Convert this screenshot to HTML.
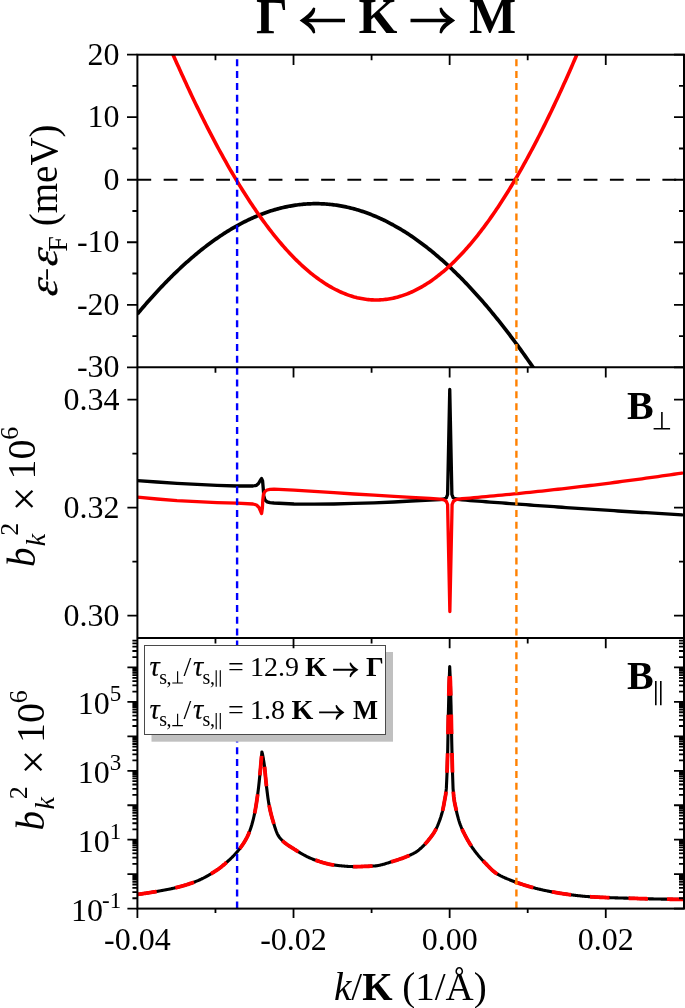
<!DOCTYPE html>
<html><head><meta charset="utf-8"><style>html,body{margin:0;padding:0;background:#fff;width:685px;height:1008px;overflow:hidden;position:relative}text{font-family:"Liberation Serif",serif}</style></head><body>
<svg width="685" height="1008" viewBox="0 0 685 1008" style="position:absolute;left:0;top:0;will-change:transform">
<rect width="685" height="1008" fill="#fff"/>
<defs>
<clipPath id="c1"><rect x="137.4" y="54.7" width="546.6" height="312.6"/></clipPath>
<clipPath id="c2"><rect x="137.4" y="367.3" width="546.6" height="270.7"/></clipPath>
<clipPath id="c3"><rect x="137.4" y="638.0" width="546.6" height="270.6"/></clipPath>
</defs>
<line x1="137.4" y1="179.74" x2="684.0" y2="179.74" stroke="#000" stroke-width="2.2" stroke-dasharray="13.8 12.45" stroke-dashoffset="0"/>
<g clip-path="url(#c1)" fill="none" stroke-linejoin="round">
<path d="M137.4,313.99 L138.76,312.36 L140.13,310.74 L141.49,309.13 L142.85,307.53 L144.22,305.95 L145.58,304.37 L146.94,302.81 L148.31,301.26 L149.67,299.72 L151.03,298.19 L152.4,296.67 L153.76,295.16 L155.12,293.66 L156.48,292.18 L157.85,290.71 L159.21,289.25 L160.57,287.8 L161.94,286.36 L163.3,284.93 L164.66,283.52 L166.03,282.11 L167.39,280.72 L168.75,279.34 L170.12,277.97 L171.48,276.62 L172.84,275.27 L174.21,273.94 L175.57,272.62 L176.93,271.31 L178.3,270.01 L179.66,268.73 L181.02,267.45 L182.39,266.19 L183.75,264.94 L185.11,263.71 L186.48,262.48 L187.84,261.27 L189.2,260.07 L190.57,258.88 L191.93,257.7 L193.29,256.54 L194.65,255.38 L196.02,254.24 L197.38,253.11 L198.74,252 L200.11,250.89 L201.47,249.8 L202.83,248.72 L204.2,247.66 L205.56,246.6 L206.92,245.56 L208.29,244.53 L209.65,243.51 L211.01,242.51 L212.38,241.52 L213.74,240.54 L215.1,239.57 L216.47,238.61 L217.83,237.67 L219.19,236.74 L220.56,235.82 L221.92,234.92 L223.28,234.03 L224.65,233.15 L226.01,232.28 L227.37,231.43 L228.74,230.58 L230.1,229.76 L231.46,228.94 L232.82,228.14 L234.19,227.35 L235.55,226.57 L236.91,225.8 L238.28,225.05 L239.64,224.31 L241,223.58 L242.37,222.87 L243.73,222.17 L245.09,221.48 L246.46,220.8 L247.82,220.14 L249.18,219.49 L250.55,218.86 L251.91,218.23 L253.27,217.62 L254.64,217.02 L256,216.44 L257.36,215.87 L258.73,215.31 L260.09,214.76 L261.45,214.23 L262.82,213.71 L264.18,213.2 L265.54,212.71 L266.91,212.23 L268.27,211.76 L269.63,211.3 L270.99,210.86 L272.36,210.43 L273.72,210.02 L275.08,209.62 L276.45,209.23 L277.81,208.85 L279.17,208.49 L280.54,208.14 L281.9,207.8 L283.26,207.48 L284.63,207.17 L285.99,206.87 L287.35,206.59 L288.72,206.31 L290.08,206.06 L291.44,205.81 L292.81,205.58 L294.17,205.36 L295.53,205.16 L296.9,204.97 L298.26,204.79 L299.62,204.62 L300.99,204.47 L302.35,204.33 L303.71,204.21 L305.07,204.1 L306.44,204 L307.8,203.91 L309.16,203.84 L310.53,203.78 L311.89,203.73 L313.25,203.7 L314.62,203.68 L315.98,203.68 L317.34,203.68 L318.71,203.7 L320.07,203.74 L321.43,203.79 L322.8,203.85 L324.16,203.92 L325.52,204.01 L326.89,204.11 L328.25,204.22 L329.61,204.35 L330.98,204.49 L332.34,204.64 L333.7,204.81 L335.07,204.99 L336.43,205.18 L337.79,205.39 L339.16,205.61 L340.52,205.84 L341.88,206.09 L343.24,206.35 L344.61,206.62 L345.97,206.91 L347.33,207.21 L348.7,207.52 L350.06,207.84 L351.42,208.18 L352.79,208.54 L354.15,208.9 L355.51,209.28 L356.88,209.67 L358.24,210.08 L359.6,210.5 L360.97,210.93 L362.33,211.38 L363.69,211.83 L365.06,212.31 L366.42,212.79 L367.78,213.29 L369.15,213.8 L370.51,214.32 L371.87,214.86 L373.24,215.41 L374.6,215.98 L375.96,216.55 L377.33,217.14 L378.69,217.75 L380.05,218.36 L381.41,218.99 L382.78,219.64 L384.14,220.29 L385.5,220.96 L386.87,221.64 L388.23,222.34 L389.59,223.05 L390.96,223.77 L392.32,224.5 L393.68,225.25 L395.05,226.01 L396.41,226.78 L397.77,227.57 L399.14,228.37 L400.5,229.18 L401.86,230 L403.23,230.84 L404.59,231.69 L405.95,232.56 L407.32,233.43 L408.68,234.32 L410.04,235.23 L411.41,236.14 L412.77,237.07 L414.13,238.01 L415.49,238.97 L416.86,239.93 L418.22,240.91 L419.58,241.91 L420.95,242.91 L422.31,243.93 L423.67,244.96 L425.04,246 L426.4,247.06 L427.76,248.13 L429.13,249.21 L430.49,250.3 L431.85,251.41 L433.22,252.53 L434.58,253.66 L435.94,254.81 L437.31,255.96 L438.67,257.13 L440.03,258.32 L441.4,259.51 L442.76,260.72 L444.12,261.94 L445.49,263.17 L446.85,264.41 L448.21,265.67 L449.58,266.94 L450.94,268.22 L452.3,269.52 L453.66,270.82 L455.03,272.14 L456.39,273.47 L457.75,274.82 L459.12,276.17 L460.48,277.54 L461.84,278.92 L463.21,280.31 L464.57,281.71 L465.93,283.13 L467.3,284.56 L468.66,286 L470.02,287.45 L471.39,288.92 L472.75,290.39 L474.11,291.88 L475.48,293.38 L476.84,294.9 L478.2,296.42 L479.57,297.96 L480.93,299.51 L482.29,301.07 L483.66,302.64 L485.02,304.22 L486.38,305.82 L487.75,307.42 L489.11,309.04 L490.47,310.67 L491.83,312.32 L493.2,313.97 L494.56,315.64 L495.92,317.31 L497.29,319 L498.65,320.7 L500.01,322.41 L501.38,324.14 L502.74,325.87 L504.1,327.62 L505.47,329.37 L506.83,331.14 L508.19,332.92 L509.56,334.71 L510.92,336.52 L512.28,338.33 L513.65,340.15 L515.01,341.99 L516.37,343.84 L517.74,345.7 L519.1,347.57 L520.46,349.45 L521.83,351.34 L523.19,353.24 L524.55,355.15 L525.92,357.08 L527.28,359.01 L528.64,360.96 L530,362.91 L531.37,364.88 L532.73,366.86 L534.09,368.85 L535.46,370.85 L536.82,372.86 L538.18,374.88 L539.55,376.91 L540.91,378.95 L542.27,381 L543.64,383.07 L545,385.14" stroke="#000" stroke-width="3.7"/>
<path d="M160,24.32 L161.44,27.73 L162.88,31.12 L164.31,34.5 L165.75,37.87 L167.19,41.21 L168.63,44.54 L170.07,47.85 L171.51,51.15 L172.94,54.42 L174.38,57.68 L175.82,60.93 L177.26,64.15 L178.7,67.36 L180.13,70.55 L181.57,73.72 L183.01,76.87 L184.45,80 L185.89,83.12 L187.32,86.22 L188.76,89.3 L190.2,92.36 L191.64,95.4 L193.08,98.42 L194.52,101.42 L195.95,104.41 L197.39,107.37 L198.83,110.32 L200.27,113.25 L201.71,116.15 L203.14,119.04 L204.58,121.91 L206.02,124.76 L207.46,127.58 L208.9,130.39 L210.33,133.18 L211.77,135.95 L213.21,138.69 L214.65,141.42 L216.09,144.13 L217.53,146.81 L218.96,149.48 L220.4,152.12 L221.84,154.74 L223.28,157.35 L224.72,159.93 L226.15,162.49 L227.59,165.03 L229.03,167.54 L230.47,170.04 L231.91,172.51 L233.34,174.97 L234.78,177.4 L236.22,179.81 L237.66,182.19 L239.1,184.56 L240.54,186.9 L241.97,189.23 L243.41,191.52 L244.85,193.8 L246.29,196.06 L247.73,198.29 L249.16,200.5 L250.6,202.69 L252.04,204.85 L253.48,206.99 L254.92,209.11 L256.35,211.21 L257.79,213.28 L259.23,215.33 L260.67,217.36 L262.11,219.36 L263.55,221.34 L264.98,223.3 L266.42,225.24 L267.86,227.15 L269.3,229.04 L270.74,230.9 L272.17,232.74 L273.61,234.56 L275.05,236.35 L276.49,238.12 L277.93,239.86 L279.36,241.58 L280.8,243.28 L282.24,244.95 L283.68,246.6 L285.12,248.23 L286.56,249.83 L287.99,251.41 L289.43,252.96 L290.87,254.49 L292.31,255.99 L293.75,257.47 L295.18,258.92 L296.62,260.35 L298.06,261.76 L299.5,263.14 L300.94,264.49 L302.37,265.83 L303.81,267.13 L305.25,268.41 L306.69,269.67 L308.13,270.9 L309.57,272.11 L311,273.29 L312.44,274.44 L313.88,275.58 L315.32,276.68 L316.76,277.76 L318.19,278.82 L319.63,279.85 L321.07,280.85 L322.51,281.83 L323.95,282.79 L325.38,283.71 L326.82,284.62 L328.26,285.5 L329.7,286.35 L331.14,287.17 L332.58,287.98 L334.01,288.75 L335.45,289.5 L336.89,290.22 L338.33,290.92 L339.77,291.59 L341.2,292.24 L342.64,292.86 L344.08,293.46 L345.52,294.03 L346.96,294.57 L348.39,295.09 L349.83,295.58 L351.27,296.04 L352.71,296.48 L354.15,296.9 L355.59,297.28 L357.02,297.65 L358.46,297.98 L359.9,298.29 L361.34,298.57 L362.78,298.83 L364.21,299.06 L365.65,299.27 L367.09,299.45 L368.53,299.6 L369.97,299.73 L371.4,299.83 L372.84,299.9 L374.28,299.95 L375.72,299.97 L377.16,299.97 L378.6,299.94 L380.03,299.88 L381.47,299.8 L382.91,299.69 L384.35,299.55 L385.79,299.39 L387.22,299.2 L388.66,298.99 L390.1,298.75 L391.54,298.48 L392.98,298.19 L394.41,297.87 L395.85,297.53 L397.29,297.16 L398.73,296.76 L400.17,296.34 L401.61,295.89 L403.04,295.41 L404.48,294.91 L405.92,294.38 L407.36,293.83 L408.8,293.25 L410.23,292.64 L411.67,292.01 L413.11,291.35 L414.55,290.66 L415.99,289.95 L417.42,289.21 L418.86,288.45 L420.3,287.66 L421.74,286.85 L423.18,286.01 L424.62,285.14 L426.05,284.25 L427.49,283.33 L428.93,282.38 L430.37,281.41 L431.81,280.41 L433.24,279.39 L434.68,278.34 L436.12,277.27 L437.56,276.17 L439,275.04 L440.43,273.89 L441.87,272.71 L443.31,271.51 L444.75,270.28 L446.19,269.03 L447.63,267.75 L449.06,266.44 L450.5,265.11 L451.94,263.76 L453.38,262.38 L454.82,260.97 L456.25,259.54 L457.69,258.08 L459.13,256.6 L460.57,255.09 L462.01,253.55 L463.44,252 L464.88,250.41 L466.32,248.8 L467.76,247.17 L469.2,245.51 L470.64,243.83 L472.07,242.12 L473.51,240.38 L474.95,238.63 L476.39,236.84 L477.83,235.03 L479.26,233.2 L480.7,231.34 L482.14,229.46 L483.58,227.56 L485.02,225.63 L486.45,223.67 L487.89,221.69 L489.33,219.69 L490.77,217.66 L492.21,215.61 L493.65,213.53 L495.08,211.43 L496.52,209.3 L497.96,207.16 L499.4,204.98 L500.84,202.79 L502.27,200.57 L503.71,198.32 L505.15,196.05 L506.59,193.76 L508.03,191.45 L509.46,189.11 L510.9,186.75 L512.34,184.36 L513.78,181.96 L515.22,179.52 L516.66,177.07 L518.09,174.59 L519.53,172.09 L520.97,169.57 L522.41,167.02 L523.85,164.45 L525.28,161.86 L526.72,159.25 L528.16,156.61 L529.6,153.95 L531.04,151.27 L532.47,148.56 L533.91,145.84 L535.35,143.09 L536.79,140.32 L538.23,137.52 L539.67,134.71 L541.1,131.87 L542.54,129.01 L543.98,126.13 L545.42,123.23 L546.86,120.31 L548.29,117.37 L549.73,114.4 L551.17,111.41 L552.61,108.4 L554.05,105.38 L555.48,102.33 L556.92,99.25 L558.36,96.16 L559.8,93.05 L561.24,89.92 L562.68,86.76 L564.11,83.59 L565.55,80.4 L566.99,77.18 L568.43,73.95 L569.87,70.69 L571.3,67.42 L572.74,64.12 L574.18,60.81 L575.62,57.47 L577.06,54.12 L578.49,50.75 L579.93,47.36 L581.37,43.94 L582.81,40.51 L584.25,37.07 L585.69,33.6 L587.12,30.11 L588.56,26.6 L590,23.08" stroke="#ff0000" stroke-width="3.6"/>
</g>
<g clip-path="url(#c2)" fill="none" stroke-linejoin="round" stroke-linecap="round">
<path d="M137.4,480.6 L157,482 L177,483.4 L197,484.4 L217,485.4 L237,486 L253,486 L256.5,485.3 L258.5,483.5 L260.5,480 L261.6,478.6 L262.6,481 L263.2,488 L263.8,496 L265,500 L267,501.8 L270,502.6 L274,503 L294,504 L314,504.2 L334,504 L354,503.4 L374,502.8 L394,502 L411,501 L430,500.2 L440,499.6 L444,499 L446.3,497.8 L447.6,494.5 L449.75,389.5 L451.9,494.5 L453.2,497.8 L456,499 L462,499.86 L466,500.17 L470,500.49 L474,500.8 L478,501.11 L482,501.42 L486,501.73 L490,502.03 L494,502.34 L498,502.64 L502,502.94 L506,503.24 L510,503.54 L514,503.83 L518,504.13 L522,504.42 L526,504.71 L530,505 L534,505.29 L538,505.58 L542,505.86 L546,506.14 L550,506.43 L554,506.71 L558,506.99 L562,507.26 L566,507.54 L570,507.81 L574,508.09 L578,508.36 L582,508.63 L586,508.89 L590,509.16 L594,509.42 L598,509.69 L602,509.95 L606,510.21 L610,510.47 L614,510.72 L618,510.98 L622,511.23 L626,511.49 L630,511.74 L634,511.98 L638,512.23 L642,512.48 L646,512.72 L650,512.96 L654,513.21 L658,513.45 L662,513.68 L666,513.92 L670,514.15 L674,514.39 L678,514.62 L682,514.85" stroke="#000" stroke-width="3.3"/>
<path d="M137.4,497.2 L157,499 L177,500.6 L197,501.6 L217,502.6 L237,503.2 L253,504 L256.5,505 L259,507.5 L261.6,513.6 L262.4,508 L262.8,500 L263.5,494 L265,491.5 L267,490 L270,489.3 L274,489.2 L294,490.2 L314,491.4 L334,492.6 L354,494 L374,495.2 L394,496.4 L411,497.4 L430,498.4 L440,499.2 L444,499.8 L446.3,501.3 L447.6,504.5 L449.85,611.5 L452.1,504.5 L453.4,501.3 L456,499.6 L462,498.71 L466,498.37 L470,498.03 L474,497.68 L478,497.32 L482,496.96 L486,496.6 L490,496.23 L494,495.86 L498,495.48 L502,495.1 L506,494.71 L510,494.32 L514,493.92 L518,493.52 L522,493.12 L526,492.71 L530,492.29 L534,491.87 L538,491.45 L542,491.02 L546,490.59 L550,490.15 L554,489.71 L558,489.26 L562,488.81 L566,488.35 L570,487.89 L574,487.42 L578,486.95 L582,486.48 L586,486 L590,485.51 L594,485.02 L598,484.53 L602,484.03 L606,483.52 L610,483.02 L614,482.5 L618,481.99 L622,481.46 L626,480.94 L630,480.41 L634,479.87 L638,479.33 L642,478.78 L646,478.23 L650,477.68 L654,477.12 L658,476.56 L662,475.99 L666,475.41 L670,474.84 L674,474.25 L678,473.67 L682,473.07" stroke="#ff0000" stroke-width="3.3"/>
</g>
<g clip-path="url(#c3)" fill="none" stroke-linejoin="round">
<path d="M137.4,894.4 L138.07,894.31 L138.75,894.22 L139.42,894.13 L140.09,894.04 L140.76,893.95 L141.44,893.85 L142.11,893.76 L142.78,893.66 L143.46,893.57 L144.13,893.47 L144.8,893.37 L145.48,893.27 L146.15,893.17 L146.82,893.06 L147.49,892.96 L148.17,892.86 L148.84,892.75 L149.51,892.64 L150.19,892.54 L150.86,892.43 L151.53,892.32 L152.21,892.21 L152.88,892.1 L153.55,891.99 L154.22,891.87 L154.9,891.76 L155.57,891.65 L156.24,891.53 L156.92,891.41 L157.59,891.3 L158.26,891.18 L158.94,891.06 L159.61,890.94 L160.28,890.83 L160.95,890.71 L161.63,890.59 L162.3,890.46 L162.97,890.34 L163.65,890.22 L164.32,890.09 L164.99,889.97 L165.66,889.84 L166.34,889.71 L167.01,889.58 L167.68,889.45 L168.36,889.31 L169.03,889.18 L169.7,889.04 L170.38,888.9 L171.05,888.76 L171.72,888.62 L172.39,888.47 L173.07,888.32 L173.74,888.17 L174.41,888.02 L175.09,887.86 L175.76,887.7 L176.43,887.54 L177.11,887.37 L177.78,887.21 L178.45,887.04 L179.12,886.86 L179.8,886.69 L180.47,886.51 L181.14,886.32 L181.82,886.14 L182.49,885.95 L183.16,885.76 L183.84,885.56 L184.51,885.36 L185.18,885.16 L185.85,884.95 L186.53,884.75 L187.2,884.53 L187.87,884.32 L188.55,884.1 L189.22,883.87 L189.89,883.64 L190.56,883.41 L191.24,883.18 L191.91,882.94 L192.58,882.7 L193.26,882.45 L193.93,882.2 L194.6,881.94 L195.28,881.68 L195.95,881.42 L196.62,881.15 L197.29,880.88 L197.97,880.6 L198.64,880.31 L199.31,880.02 L199.99,879.72 L200.66,879.41 L201.33,879.09 L202.01,878.76 L202.68,878.43 L203.35,878.1 L204.02,877.75 L204.7,877.4 L205.37,877.04 L206.04,876.68 L206.72,876.31 L207.39,875.93 L208.06,875.55 L208.74,875.17 L209.41,874.77 L210.08,874.38 L210.75,873.97 L211.43,873.56 L212.1,873.15 L212.77,872.73 L213.45,872.31 L214.12,871.88 L214.79,871.45 L215.46,871.01 L216.14,870.57 L216.81,870.13 L217.48,869.67 L218.16,869.21 L218.83,868.72 L219.5,868.23 L220.18,867.72 L220.85,867.2 L221.52,866.66 L222.19,866.12 L222.87,865.57 L223.54,865 L224.21,864.43 L224.89,863.86 L225.56,863.27 L226.23,862.68 L226.91,862.08 L227.58,861.48 L228.25,860.88 L228.92,860.27 L229.6,859.66 L230.27,859.03 L230.94,858.4 L231.62,857.75 L232.29,857.09 L232.96,856.42 L233.64,855.73 L234.31,855.02 L234.98,854.3 L235.65,853.56 L236.33,852.79 L237,852 L237.67,851.19 L238.35,850.37 L239.02,849.54 L239.69,848.68 L240.36,847.81 L241.04,846.91 L241.71,845.98 L242.38,845.01 L243.06,844.01 L243.73,842.98 L244.4,841.9 L245.08,840.78 L245.75,839.61 L246.42,838.39 L247.09,837.12 L247.77,835.73 L248.44,834.22 L249.11,832.57 L249.79,830.79 L250.46,828.9 L251.13,826.9 L251.81,824.73 L252.48,822.36 L253.15,819.79 L253.82,816.99 L254.5,813.94 L255.17,810.55 L255.84,806.76 L256.52,802.59 L257.19,798.08 L257.86,793.15 L258.54,787.59 L259.21,781.5 L259.88,774.99 L260.55,767.95 L261.23,760.25 L261.9,752 L262.57,754.47 L263.24,757.94 L263.91,762.14 L264.58,767.05 L265.25,773.84 L265.92,781.13 L266.59,787.23 L267.27,792.81 L267.94,797.96 L268.61,802.39 L269.28,806.05 L269.95,809.32 L270.62,812.29 L271.29,815 L271.96,817.5 L272.63,819.83 L273.3,822.08 L273.97,824.29 L274.64,826.45 L275.31,828.52 L275.98,830.46 L276.66,832.24 L277.33,833.82 L278,835.17 L278.67,836.26 L279.34,837.16 L280.01,838 L280.68,838.8 L281.35,839.56 L282.02,840.27 L282.69,840.94 L283.36,841.58 L284.03,842.18 L284.7,842.75 L285.38,843.29 L286.05,843.81 L286.72,844.3 L287.39,844.78 L288.06,845.23 L288.73,845.68 L289.4,846.11 L290.07,846.53 L290.74,846.95 L291.41,847.37 L292.08,847.78 L292.75,848.2 L293.42,848.63 L294.09,849.06 L294.76,849.5 L295.44,849.93 L296.11,850.36 L296.78,850.78 L297.45,851.2 L298.12,851.62 L298.79,852.03 L299.46,852.44 L300.13,852.84 L300.8,853.23 L301.47,853.62 L302.14,854.01 L302.81,854.39 L303.48,854.76 L304.15,855.12 L304.83,855.48 L305.5,855.83 L306.17,856.18 L306.84,856.52 L307.51,856.85 L308.18,857.17 L308.85,857.48 L309.52,857.79 L310.19,858.08 L310.86,858.37 L311.53,858.65 L312.2,858.92 L312.87,859.18 L313.54,859.43 L314.22,859.68 L314.89,859.92 L315.56,860.15 L316.23,860.39 L316.9,860.62 L317.57,860.85 L318.24,861.08 L318.91,861.3 L319.58,861.53 L320.25,861.74 L320.92,861.96 L321.59,862.17 L322.26,862.37 L322.93,862.58 L323.61,862.77 L324.28,862.96 L324.95,863.15 L325.62,863.33 L326.29,863.5 L326.96,863.67 L327.63,863.84 L328.3,863.99 L328.97,864.14 L329.64,864.28 L330.31,864.41 L330.98,864.54 L331.65,864.66 L332.32,864.77 L333,864.87 L333.67,864.96 L334.34,865.04 L335.01,865.12 L335.68,865.21 L336.35,865.29 L337.02,865.37 L337.69,865.45 L338.36,865.52 L339.03,865.6 L339.7,865.68 L340.37,865.75 L341.04,865.82 L341.71,865.89 L342.39,865.96 L343.06,866.02 L343.73,866.08 L344.4,866.14 L345.07,866.2 L345.74,866.25 L346.41,866.3 L347.08,866.35 L347.75,866.39 L348.42,866.43 L349.09,866.47 L349.76,866.5 L350.43,866.53 L351.1,866.55 L351.78,866.57 L352.45,866.59 L353.12,866.6 L353.79,866.6 L354.46,866.6 L355.13,866.6 L355.8,866.59 L356.47,866.59 L357.14,866.58 L357.81,866.57 L358.48,866.56 L359.15,866.55 L359.82,866.54 L360.5,866.53 L361.17,866.51 L361.84,866.5 L362.51,866.48 L363.18,866.46 L363.85,866.44 L364.52,866.42 L365.19,866.39 L365.86,866.37 L366.53,866.35 L367.2,866.32 L367.87,866.29 L368.54,866.26 L369.21,866.23 L369.88,866.2 L370.56,866.17 L371.23,866.14 L371.9,866.11 L372.57,866.07 L373.24,866.04 L373.91,866 L374.58,865.96 L375.25,865.91 L375.92,865.84 L376.59,865.75 L377.26,865.66 L377.93,865.55 L378.6,865.43 L379.27,865.3 L379.95,865.16 L380.62,865.01 L381.29,864.85 L381.96,864.69 L382.63,864.51 L383.3,864.33 L383.97,864.14 L384.64,863.95 L385.31,863.75 L385.98,863.55 L386.65,863.34 L387.32,863.13 L387.99,862.92 L388.66,862.7 L389.34,862.49 L390.01,862.27 L390.68,862.05 L391.35,861.84 L392.02,861.62 L392.69,861.41 L393.36,861.2 L394.03,860.99 L394.7,860.78 L395.37,860.58 L396.04,860.37 L396.71,860.15 L397.38,859.94 L398.05,859.72 L398.73,859.5 L399.4,859.28 L400.07,859.05 L400.74,858.82 L401.41,858.59 L402.08,858.35 L402.75,858.1 L403.42,857.86 L404.09,857.6 L404.76,857.35 L405.43,857.08 L406.1,856.82 L406.77,856.54 L407.44,856.26 L408.12,855.97 L408.79,855.68 L409.46,855.38 L410.13,855.07 L410.8,854.76 L411.47,854.43 L412.14,854.1 L412.81,853.76 L413.48,853.42 L414.15,853.06 L414.82,852.7 L415.49,852.32 L416.16,851.9 L416.83,851.44 L417.51,850.96 L418.18,850.45 L418.85,849.92 L419.52,849.36 L420.19,848.79 L420.86,848.21 L421.53,847.62 L422.2,846.99 L422.87,846.34 L423.54,845.67 L424.21,844.97 L424.88,844.25 L425.55,843.51 L426.22,842.75 L426.9,841.97 L427.57,841.18 L428.24,840.38 L428.91,839.56 L429.58,838.74 L430.25,837.9 L430.92,837.03 L431.59,836.14 L432.26,835.22 L432.93,834.25 L433.6,833.23 L434.27,832.16 L434.94,831.02 L435.62,829.8 L436.29,828.49 L436.96,827.08 L437.63,825.58 L438.3,823.98 L438.97,822.3 L439.64,820.52 L440.31,818.63 L440.98,816.56 L441.65,814.3 L442.32,811.81 L442.99,808.98 L443.66,805.62 L444.33,801.92 L445,798.27 L445.68,794.56 L446.35,788.38 L447.02,773.43 L447.69,750.75 L448.36,713.5 L449.03,686.2 L449.7,666.6 L450.37,681.43 L451.04,705.17 L451.71,740.65 L452.38,768.78 L453.05,788.31 L453.72,796.41 L454.39,801.28 L455.06,804.78 L455.72,807.78 L456.39,810.89 L457.06,813.78 L457.73,816.44 L458.4,818.89 L459.07,821.12 L459.74,823.16 L460.41,825.02 L461.08,826.75 L461.75,828.37 L462.42,829.89 L463.09,831.32 L463.76,832.69 L464.43,834.01 L465.1,835.3 L465.77,836.57 L466.44,837.83 L467.11,839.06 L467.77,840.26 L468.44,841.42 L469.11,842.56 L469.78,843.66 L470.45,844.73 L471.12,845.77 L471.79,846.79 L472.46,847.78 L473.13,848.75 L473.8,849.69 L474.47,850.61 L475.14,851.5 L475.81,852.38 L476.48,853.24 L477.15,854.07 L477.82,854.9 L478.49,855.7 L479.15,856.49 L479.82,857.26 L480.49,858.02 L481.16,858.76 L481.83,859.49 L482.5,860.21 L483.17,860.92 L483.84,861.61 L484.51,862.3 L485.18,862.98 L485.85,863.67 L486.52,864.37 L487.19,865.07 L487.86,865.77 L488.53,866.47 L489.2,867.16 L489.87,867.84 L490.54,868.52 L491.2,869.18 L491.87,869.81 L492.54,870.43 L493.21,871.02 L493.88,871.58 L494.55,872.11 L495.22,872.61 L495.89,873.07 L496.56,873.49 L497.23,873.9 L497.9,874.29 L498.57,874.68 L499.24,875.05 L499.91,875.41 L500.58,875.77 L501.25,876.11 L501.92,876.45 L502.58,876.77 L503.25,877.09 L503.92,877.4 L504.59,877.71 L505.26,878 L505.93,878.29 L506.6,878.58 L507.27,878.86 L507.94,879.13 L508.61,879.4 L509.28,879.67 L509.95,879.93 L510.62,880.19 L511.29,880.44 L511.96,880.69 L512.63,880.95 L513.3,881.2 L513.97,881.44 L514.63,881.69 L515.3,881.94 L515.97,882.19 L516.64,882.44 L517.31,882.68 L517.98,882.92 L518.65,883.16 L519.32,883.4 L519.99,883.63 L520.66,883.86 L521.33,884.08 L522,884.31 L522.67,884.53 L523.34,884.75 L524.01,884.96 L524.68,885.17 L525.35,885.38 L526.01,885.59 L526.68,885.79 L527.35,885.99 L528.02,886.19 L528.69,886.39 L529.36,886.58 L530.03,886.77 L530.7,886.96 L531.37,887.15 L532.04,887.33 L532.71,887.51 L533.38,887.69 L534.05,887.87 L534.72,888.04 L535.39,888.22 L536.06,888.39 L536.73,888.56 L537.4,888.73 L538.06,888.89 L538.73,889.06 L539.4,889.22 L540.07,889.38 L540.74,889.54 L541.41,889.69 L542.08,889.85 L542.75,890 L543.42,890.15 L544.09,890.29 L544.76,890.44 L545.43,890.58 L546.1,890.72 L546.77,890.85 L547.44,890.99 L548.11,891.12 L548.78,891.25 L549.44,891.38 L550.11,891.51 L550.78,891.63 L551.45,891.76 L552.12,891.88 L552.79,892 L553.46,892.12 L554.13,892.24 L554.8,892.36 L555.47,892.48 L556.14,892.6 L556.81,892.71 L557.48,892.82 L558.15,892.93 L558.82,893.04 L559.49,893.15 L560.16,893.26 L560.83,893.36 L561.49,893.47 L562.16,893.57 L562.83,893.67 L563.5,893.77 L564.17,893.87 L564.84,893.97 L565.51,894.06 L566.18,894.15 L566.85,894.25 L567.52,894.34 L568.19,894.42 L568.86,894.51 L569.53,894.6 L570.2,894.69 L570.87,894.78 L571.54,894.86 L572.21,894.95 L572.87,895.03 L573.54,895.12 L574.21,895.2 L574.88,895.29 L575.55,895.37 L576.22,895.45 L576.89,895.53 L577.56,895.61 L578.23,895.68 L578.9,895.76 L579.57,895.83 L580.24,895.91 L580.91,895.98 L581.58,896.05 L582.25,896.11 L582.92,896.18 L583.59,896.24 L584.26,896.3 L584.92,896.36 L585.59,896.42 L586.26,896.47 L586.93,896.52 L587.6,896.57 L588.27,896.62 L588.94,896.66 L589.61,896.71 L590.28,896.75 L590.95,896.79 L591.62,896.83 L592.29,896.87 L592.96,896.91 L593.63,896.95 L594.3,896.99 L594.97,897.02 L595.64,897.06 L596.3,897.09 L596.97,897.13 L597.64,897.16 L598.31,897.19 L598.98,897.22 L599.65,897.26 L600.32,897.29 L600.99,897.32 L601.66,897.35 L602.33,897.37 L603,897.4 L603.67,897.43 L604.34,897.46 L605.01,897.48 L605.68,897.51 L606.35,897.54 L607.02,897.56 L607.69,897.59 L608.35,897.61 L609.02,897.64 L609.69,897.66 L610.36,897.68 L611.03,897.71 L611.7,897.73 L612.37,897.75 L613.04,897.77 L613.71,897.79 L614.38,897.81 L615.05,897.83 L615.72,897.85 L616.39,897.87 L617.06,897.89 L617.73,897.91 L618.4,897.93 L619.07,897.95 L619.73,897.97 L620.4,897.99 L621.07,898 L621.74,898.02 L622.41,898.04 L623.08,898.06 L623.75,898.08 L624.42,898.1 L625.09,898.12 L625.76,898.13 L626.43,898.15 L627.1,898.17 L627.77,898.19 L628.44,898.21 L629.11,898.23 L629.78,898.25 L630.45,898.28 L631.12,898.3 L631.78,898.32 L632.45,898.34 L633.12,898.36 L633.79,898.38 L634.46,898.41 L635.13,898.43 L635.8,898.45 L636.47,898.47 L637.14,898.49 L637.81,898.51 L638.48,898.54 L639.15,898.56 L639.82,898.58 L640.49,898.6 L641.16,898.62 L641.83,898.64 L642.5,898.66 L643.16,898.68 L643.83,898.7 L644.5,898.71 L645.17,898.73 L645.84,898.75 L646.51,898.77 L647.18,898.78 L647.85,898.8 L648.52,898.81 L649.19,898.83 L649.86,898.84 L650.53,898.86 L651.2,898.87 L651.87,898.88 L652.54,898.9 L653.21,898.91 L653.88,898.93 L654.55,898.94 L655.21,898.95 L655.88,898.97 L656.55,898.98 L657.22,899 L657.89,899.01 L658.56,899.02 L659.23,899.04 L659.9,899.05 L660.57,899.06 L661.24,899.08 L661.91,899.09 L662.58,899.1 L663.25,899.11 L663.92,899.13 L664.59,899.14 L665.26,899.15 L665.93,899.16 L666.59,899.17 L667.26,899.18 L667.93,899.2 L668.6,899.21 L669.27,899.22 L669.94,899.23 L670.61,899.24 L671.28,899.25 L671.95,899.26 L672.62,899.27 L673.29,899.28 L673.96,899.29 L674.63,899.3 L675.3,899.31 L675.97,899.32 L676.64,899.32 L677.31,899.33 L677.98,899.34 L678.64,899.35 L679.31,899.36 L679.98,899.36 L680.65,899.37 L681.32,899.38 L681.99,899.38 L682.66,899.39 L683.33,899.39 L684,899.4" stroke="#000" stroke-width="3.1"/>
<path d="M137.4,894.4 L138.07,894.31 L138.75,894.22 L139.42,894.13 L140.09,894.04 L140.76,893.95 L141.44,893.85 L142.11,893.76 L142.78,893.66 L143.46,893.57 L144.13,893.47 L144.8,893.37 L145.48,893.27 L146.15,893.17 L146.82,893.06 L147.49,892.96 L148.17,892.86 L148.84,892.75 L149.51,892.64 L150.19,892.54 L150.86,892.43 L151.53,892.32 L152.21,892.21 L152.88,892.1 L153.55,891.99 L154.22,891.87 L154.9,891.76 L155.57,891.65 L156.24,891.53 L156.92,891.41 L157.59,891.3 L158.26,891.18 L158.94,891.06 L159.61,890.94 L160.28,890.83 L160.95,890.71 L161.63,890.59 L162.3,890.46 L162.97,890.34 L163.65,890.22 L164.32,890.09 L164.99,889.97 L165.66,889.84 L166.34,889.71 L167.01,889.58 L167.68,889.45 L168.36,889.31 L169.03,889.18 L169.7,889.04 L170.38,888.9 L171.05,888.76 L171.72,888.62 L172.39,888.47 L173.07,888.32 L173.74,888.17 L174.41,888.02 L175.09,887.86 L175.76,887.7 L176.43,887.54 L177.11,887.37 L177.78,887.21 L178.45,887.04 L179.12,886.86 L179.8,886.69 L180.47,886.51 L181.14,886.32 L181.82,886.14 L182.49,885.95 L183.16,885.76 L183.84,885.56 L184.51,885.36 L185.18,885.16 L185.85,884.95 L186.53,884.75 L187.2,884.53 L187.87,884.32 L188.55,884.1 L189.22,883.87 L189.89,883.64 L190.56,883.41 L191.24,883.18 L191.91,882.94 L192.58,882.7 L193.26,882.45 L193.93,882.2 L194.6,881.94 L195.28,881.68 L195.95,881.42 L196.62,881.15 L197.29,880.88 L197.97,880.6 L198.64,880.31 L199.31,880.02 L199.99,879.72 L200.66,879.41 L201.33,879.09 L202.01,878.76 L202.68,878.43 L203.35,878.1 L204.02,877.75 L204.7,877.4 L205.37,877.04 L206.04,876.68 L206.72,876.31 L207.39,875.93 L208.06,875.55 L208.74,875.17 L209.41,874.77 L210.08,874.38 L210.75,873.97 L211.43,873.56 L212.1,873.15 L212.77,872.73 L213.45,872.31 L214.12,871.88 L214.79,871.45 L215.46,871.01 L216.14,870.57 L216.81,870.13 L217.48,869.67 L218.16,869.21 L218.83,868.72 L219.5,868.23 L220.18,867.72 L220.85,867.2 L221.52,866.66 L222.19,866.12 L222.87,865.57 L223.54,865 L224.21,864.43 L224.89,863.86 L225.56,863.27 L226.23,862.68 L226.91,862.08 L227.58,861.48 L228.25,860.88 L228.92,860.27 L229.6,859.66 L230.27,859.03 L230.94,858.4 L231.62,857.75 L232.29,857.09 L232.96,856.42 L233.64,855.73 L234.31,855.02 L234.98,854.3 L235.65,853.56 L236.33,852.79 L237,852 L237.67,851.19 L238.35,850.37 L239.02,849.54 L239.69,848.68 L240.36,847.81 L241.04,846.91 L241.71,845.98 L242.38,845.01 L243.06,844.01 L243.73,842.98 L244.4,841.9 L245.08,840.78 L245.75,839.61 L246.42,838.39 L247.09,837.12 L247.77,835.73 L248.44,834.22 L249.11,832.57 L249.79,830.79 L250.46,828.9 L251.13,826.9 L251.81,824.73 L252.48,822.36 L253.15,819.79 L253.82,816.99 L254.5,813.94 L255.17,810.55 L255.84,806.76 L256.52,802.59 L257.19,798.08 L257.86,793.15 L258.54,787.59 L259.21,781.5 L259.88,774.99 L260.55,767.95 L261.23,760.25 L261.9,752 L262.57,754.47 L263.24,757.94 L263.91,762.14 L264.58,767.05 L265.25,773.84 L265.92,781.13 L266.59,787.23 L267.27,792.81 L267.94,797.96 L268.61,802.39 L269.28,806.05 L269.95,809.32 L270.62,812.29 L271.29,815 L271.96,817.5 L272.63,819.83 L273.3,822.08 L273.97,824.29 L274.64,826.45 L275.31,828.52 L275.98,830.46 L276.66,832.24 L277.33,833.82 L278,835.17 L278.67,836.26 L279.34,837.16 L280.01,838 L280.68,838.8 L281.35,839.56 L282.02,840.27 L282.69,840.94 L283.36,841.58 L284.03,842.18 L284.7,842.75 L285.38,843.29 L286.05,843.81 L286.72,844.3 L287.39,844.78 L288.06,845.23 L288.73,845.68 L289.4,846.11 L290.07,846.53 L290.74,846.95 L291.41,847.37 L292.08,847.78 L292.75,848.2 L293.42,848.63 L294.09,849.06 L294.76,849.5 L295.44,849.93 L296.11,850.36 L296.78,850.78 L297.45,851.2 L298.12,851.62 L298.79,852.03 L299.46,852.44 L300.13,852.84 L300.8,853.23 L301.47,853.62 L302.14,854.01 L302.81,854.39 L303.48,854.76 L304.15,855.12 L304.83,855.48 L305.5,855.83 L306.17,856.18 L306.84,856.52 L307.51,856.85 L308.18,857.17 L308.85,857.48 L309.52,857.79 L310.19,858.08 L310.86,858.37 L311.53,858.65 L312.2,858.92 L312.87,859.18 L313.54,859.43 L314.22,859.68 L314.89,859.92 L315.56,860.15 L316.23,860.39 L316.9,860.62 L317.57,860.85 L318.24,861.08 L318.91,861.3 L319.58,861.53 L320.25,861.74 L320.92,861.96 L321.59,862.17 L322.26,862.37 L322.93,862.58 L323.61,862.77 L324.28,862.96 L324.95,863.15 L325.62,863.33 L326.29,863.5 L326.96,863.67 L327.63,863.84 L328.3,863.99 L328.97,864.14 L329.64,864.28 L330.31,864.41 L330.98,864.54 L331.65,864.66 L332.32,864.77 L333,864.87 L333.67,864.96 L334.34,865.04 L335.01,865.12 L335.68,865.21 L336.35,865.29 L337.02,865.37 L337.69,865.45 L338.36,865.52 L339.03,865.6 L339.7,865.68 L340.37,865.75 L341.04,865.82 L341.71,865.89 L342.39,865.96 L343.06,866.02 L343.73,866.08 L344.4,866.14 L345.07,866.2 L345.74,866.25 L346.41,866.3 L347.08,866.35 L347.75,866.39 L348.42,866.43 L349.09,866.47 L349.76,866.5 L350.43,866.53 L351.1,866.55 L351.78,866.57 L352.45,866.59 L353.12,866.6 L353.79,866.6 L354.46,866.6 L355.13,866.6 L355.8,866.59 L356.47,866.59 L357.14,866.58 L357.81,866.57 L358.48,866.56 L359.15,866.55 L359.82,866.54 L360.5,866.53 L361.17,866.51 L361.84,866.5 L362.51,866.48 L363.18,866.46 L363.85,866.44 L364.52,866.42 L365.19,866.39 L365.86,866.37 L366.53,866.35 L367.2,866.32 L367.87,866.29 L368.54,866.26 L369.21,866.23 L369.88,866.2 L370.56,866.17 L371.23,866.14 L371.9,866.11 L372.57,866.07 L373.24,866.04 L373.91,866 L374.58,865.96 L375.25,865.91 L375.92,865.84 L376.59,865.75 L377.26,865.66 L377.93,865.55 L378.6,865.43 L379.27,865.3 L379.95,865.16 L380.62,865.01 L381.29,864.85 L381.96,864.69 L382.63,864.51 L383.3,864.33 L383.97,864.14 L384.64,863.95 L385.31,863.75 L385.98,863.55 L386.65,863.34 L387.32,863.13 L387.99,862.92 L388.66,862.7 L389.34,862.49 L390.01,862.27 L390.68,862.05 L391.35,861.84 L392.02,861.62 L392.69,861.41 L393.36,861.2 L394.03,860.99 L394.7,860.78 L395.37,860.58 L396.04,860.37 L396.71,860.15 L397.38,859.94 L398.05,859.72 L398.73,859.5 L399.4,859.28 L400.07,859.05 L400.74,858.82 L401.41,858.59 L402.08,858.35 L402.75,858.1 L403.42,857.86 L404.09,857.6 L404.76,857.35 L405.43,857.08 L406.1,856.82 L406.77,856.54 L407.44,856.26 L408.12,855.97 L408.79,855.68 L409.46,855.38 L410.13,855.07 L410.8,854.76 L411.47,854.43 L412.14,854.1 L412.81,853.76 L413.48,853.42 L414.15,853.06 L414.82,852.7 L415.49,852.32 L416.16,851.9 L416.83,851.44 L417.51,850.96 L418.18,850.45 L418.85,849.92 L419.52,849.36 L420.19,848.79 L420.86,848.21 L421.53,847.62 L422.2,846.99 L422.87,846.34 L423.54,845.67 L424.21,844.97 L424.88,844.25 L425.55,843.51 L426.22,842.75 L426.9,841.97 L427.57,841.18 L428.24,840.38 L428.91,839.56 L429.58,838.74 L430.25,837.9 L430.92,837.03 L431.59,836.14 L432.26,835.22 L432.93,834.25 L433.6,833.23 L434.27,832.16 L434.94,831.02 L435.62,829.8 L436.29,828.49 L436.96,827.08 L437.63,825.58 L438.3,823.98 L438.97,822.3 L439.64,820.52 L440.31,818.63 L440.98,816.56 L441.65,814.3 L442.32,811.81 L442.99,808.98 L443.66,805.62 L444.33,801.92 L445,798.27 L445.68,794.56 L446.35,788.38 L447.02,773.43 L447.69,750.75 L448.36,713.5 L449.03,686.2 L449.7,666.6" stroke="#ff0000" stroke-width="3.8" stroke-dasharray="19.5 19" stroke-dashoffset="0"/>
<path d="M449.7,666.6 L450.37,681.43 L451.04,705.17 L451.71,740.65 L452.38,768.78 L453.05,788.31 L453.72,796.41 L454.39,801.28 L455.06,804.78 L455.72,807.78 L456.39,810.89 L457.06,813.78 L457.73,816.44 L458.4,818.89 L459.07,821.12 L459.74,823.16 L460.41,825.02 L461.08,826.75 L461.75,828.37 L462.42,829.89 L463.09,831.32 L463.76,832.69 L464.43,834.01 L465.1,835.3 L465.77,836.57 L466.44,837.83 L467.11,839.06 L467.77,840.26 L468.44,841.42 L469.11,842.56 L469.78,843.66 L470.45,844.73 L471.12,845.77 L471.79,846.79 L472.46,847.78 L473.13,848.75 L473.8,849.69 L474.47,850.61 L475.14,851.5 L475.81,852.38 L476.48,853.24 L477.15,854.07 L477.82,854.9 L478.49,855.7 L479.15,856.49 L479.82,857.26 L480.49,858.02 L481.16,858.76 L481.83,859.49 L482.5,860.21 L483.17,860.92 L483.84,861.61 L484.51,862.3 L485.18,862.98 L485.85,863.67 L486.52,864.37 L487.19,865.07 L487.86,865.77 L488.53,866.47 L489.2,867.16 L489.87,867.84 L490.54,868.52 L491.2,869.18 L491.87,869.81 L492.54,870.43 L493.21,871.02 L493.88,871.58 L494.55,872.11 L495.22,872.61 L495.89,873.07 L496.56,873.49 L497.23,873.9 L497.9,874.29 L498.57,874.68 L499.24,875.05 L499.91,875.41 L500.58,875.77 L501.25,876.11 L501.92,876.45 L502.58,876.77 L503.25,877.09 L503.92,877.4 L504.59,877.71 L505.26,878 L505.93,878.29 L506.6,878.58 L507.27,878.86 L507.94,879.13 L508.61,879.4 L509.28,879.67 L509.95,879.93 L510.62,880.19 L511.29,880.44 L511.96,880.69 L512.63,880.95 L513.3,881.2 L513.97,881.44 L514.63,881.69 L515.3,881.94 L515.97,882.19 L516.64,882.44 L517.31,882.68 L517.98,882.92 L518.65,883.16 L519.32,883.4 L519.99,883.63 L520.66,883.86 L521.33,884.08 L522,884.31 L522.67,884.53 L523.34,884.75 L524.01,884.96 L524.68,885.17 L525.35,885.38 L526.01,885.59 L526.68,885.79 L527.35,885.99 L528.02,886.19 L528.69,886.39 L529.36,886.58 L530.03,886.77 L530.7,886.96 L531.37,887.15 L532.04,887.33 L532.71,887.51 L533.38,887.69 L534.05,887.87 L534.72,888.04 L535.39,888.22 L536.06,888.39 L536.73,888.56 L537.4,888.73 L538.06,888.89 L538.73,889.06 L539.4,889.22 L540.07,889.38 L540.74,889.54 L541.41,889.69 L542.08,889.85 L542.75,890 L543.42,890.15 L544.09,890.29 L544.76,890.44 L545.43,890.58 L546.1,890.72 L546.77,890.85 L547.44,890.99 L548.11,891.12 L548.78,891.25 L549.44,891.38 L550.11,891.51 L550.78,891.63 L551.45,891.76 L552.12,891.88 L552.79,892 L553.46,892.12 L554.13,892.24 L554.8,892.36 L555.47,892.48 L556.14,892.6 L556.81,892.71 L557.48,892.82 L558.15,892.93 L558.82,893.04 L559.49,893.15 L560.16,893.26 L560.83,893.36 L561.49,893.47 L562.16,893.57 L562.83,893.67 L563.5,893.77 L564.17,893.87 L564.84,893.97 L565.51,894.06 L566.18,894.15 L566.85,894.25 L567.52,894.34 L568.19,894.42 L568.86,894.51 L569.53,894.6 L570.2,894.69 L570.87,894.78 L571.54,894.86 L572.21,894.95 L572.87,895.03 L573.54,895.12 L574.21,895.2 L574.88,895.29 L575.55,895.37 L576.22,895.45 L576.89,895.53 L577.56,895.61 L578.23,895.68 L578.9,895.76 L579.57,895.83 L580.24,895.91 L580.91,895.98 L581.58,896.05 L582.25,896.11 L582.92,896.18 L583.59,896.24 L584.26,896.3 L584.92,896.36 L585.59,896.42 L586.26,896.47 L586.93,896.52 L587.6,896.57 L588.27,896.62 L588.94,896.66 L589.61,896.71 L590.28,896.75 L590.95,896.79 L591.62,896.83 L592.29,896.87 L592.96,896.91 L593.63,896.95 L594.3,896.99 L594.97,897.02 L595.64,897.06 L596.3,897.09 L596.97,897.13 L597.64,897.16 L598.31,897.19 L598.98,897.22 L599.65,897.26 L600.32,897.29 L600.99,897.32 L601.66,897.35 L602.33,897.37 L603,897.4 L603.67,897.43 L604.34,897.46 L605.01,897.48 L605.68,897.51 L606.35,897.54 L607.02,897.56 L607.69,897.59 L608.35,897.61 L609.02,897.64 L609.69,897.66 L610.36,897.68 L611.03,897.71 L611.7,897.73 L612.37,897.75 L613.04,897.77 L613.71,897.79 L614.38,897.81 L615.05,897.83 L615.72,897.85 L616.39,897.87 L617.06,897.89 L617.73,897.91 L618.4,897.93 L619.07,897.95 L619.73,897.97 L620.4,897.99 L621.07,898 L621.74,898.02 L622.41,898.04 L623.08,898.06 L623.75,898.08 L624.42,898.1 L625.09,898.12 L625.76,898.13 L626.43,898.15 L627.1,898.17 L627.77,898.19 L628.44,898.21 L629.11,898.23 L629.78,898.25 L630.45,898.28 L631.12,898.3 L631.78,898.32 L632.45,898.34 L633.12,898.36 L633.79,898.38 L634.46,898.41 L635.13,898.43 L635.8,898.45 L636.47,898.47 L637.14,898.49 L637.81,898.51 L638.48,898.54 L639.15,898.56 L639.82,898.58 L640.49,898.6 L641.16,898.62 L641.83,898.64 L642.5,898.66 L643.16,898.68 L643.83,898.7 L644.5,898.71 L645.17,898.73 L645.84,898.75 L646.51,898.77 L647.18,898.78 L647.85,898.8 L648.52,898.81 L649.19,898.83 L649.86,898.84 L650.53,898.86 L651.2,898.87 L651.87,898.88 L652.54,898.9 L653.21,898.91 L653.88,898.93 L654.55,898.94 L655.21,898.95 L655.88,898.97 L656.55,898.98 L657.22,899 L657.89,899.01 L658.56,899.02 L659.23,899.04 L659.9,899.05 L660.57,899.06 L661.24,899.08 L661.91,899.09 L662.58,899.1 L663.25,899.11 L663.92,899.13 L664.59,899.14 L665.26,899.15 L665.93,899.16 L666.59,899.17 L667.26,899.18 L667.93,899.2 L668.6,899.21 L669.27,899.22 L669.94,899.23 L670.61,899.24 L671.28,899.25 L671.95,899.26 L672.62,899.27 L673.29,899.28 L673.96,899.29 L674.63,899.3 L675.3,899.31 L675.97,899.32 L676.64,899.32 L677.31,899.33 L677.98,899.34 L678.64,899.35 L679.31,899.36 L679.98,899.36 L680.65,899.37 L681.32,899.38 L681.99,899.38 L682.66,899.39 L683.33,899.39 L684,899.4" stroke="#ff0000" stroke-width="3.8" stroke-dasharray="19.5 19" stroke-dashoffset="29.00"/>
</g>
<g stroke-width="2.4" stroke-dasharray="7 4.863" fill="none">
<line x1="237.1" y1="54.7" x2="237.1" y2="908.6" stroke="#0000ff" stroke-dashoffset="-4.5"/>
<line x1="516.4" y1="54.7" x2="516.4" y2="908.6" stroke="#ff8000" stroke-dashoffset="-4.5"/>
</g>
<rect x="151.5" y="652" width="241.5" height="89.7" fill="#c0c0c0"/>
<rect x="144.5" y="645.5" width="241" height="89" fill="#fff" stroke="#4a4a4a" stroke-width="1"/>
<path d="M293.52,54.7 v10.3 M449.64,54.7 v10.3 M605.76,54.7 v10.3 M215.46,54.7 v5.5 M371.58,54.7 v5.5 M527.7,54.7 v5.5 M293.52,367.3 v10.3 M449.64,367.3 v10.3 M605.76,367.3 v10.3 M215.46,367.3 v5.5 M371.58,367.3 v5.5 M527.7,367.3 v5.5 M293.52,638 v10.3 M449.64,638 v10.3 M605.76,638 v10.3 M215.46,638 v5.5 M371.58,638 v5.5 M527.7,638 v5.5 M137.4,908.6 v9.5 M293.52,908.6 v9.5 M449.64,908.6 v9.5 M605.76,908.6 v9.5 M215.46,908.6 v4.5 M371.58,908.6 v4.5 M527.7,908.6 v4.5 M137.4,367.3 h-10.4 M684,367.3 h-10 M137.4,304.78 h-10.4 M684,304.78 h-10 M137.4,242.26 h-10.4 M684,242.26 h-10 M137.4,179.74 h-10.4 M684,179.74 h-10 M137.4,117.22 h-10.4 M684,117.22 h-10 M137.4,54.7 h-10.4 M684,54.7 h-10 M137.4,336.04 h-5 M684,336.04 h-5 M137.4,273.52 h-5 M684,273.52 h-5 M137.4,211 h-5 M684,211 h-5 M137.4,148.48 h-5 M684,148.48 h-5 M137.4,85.96 h-5 M684,85.96 h-5 M137.4,615.6 h-10 M684,615.6 h-10 M137.4,507.65 h-10 M684,507.65 h-10 M137.4,399.7 h-10 M684,399.7 h-10 M137.4,561.63 h-5 M684,561.63 h-5 M137.4,453.68 h-5 M684,453.68 h-5 M137.4,908.6 h-10 M684,908.6 h-10 M137.4,898.23 h-5 M684,898.23 h-5 M137.4,892.16 h-5 M684,892.16 h-5 M137.4,887.86 h-5 M684,887.86 h-5 M137.4,884.52 h-5 M684,884.52 h-5 M137.4,881.79 h-5 M684,881.79 h-5 M137.4,879.49 h-5 M684,879.49 h-5 M137.4,877.49 h-5 M684,877.49 h-5 M137.4,875.73 h-5 M684,875.73 h-5 M137.4,874.15 h-10 M684,874.15 h-10 M137.4,863.78 h-5 M684,863.78 h-5 M137.4,857.71 h-5 M684,857.71 h-5 M137.4,853.41 h-5 M684,853.41 h-5 M137.4,850.07 h-5 M684,850.07 h-5 M137.4,847.34 h-5 M684,847.34 h-5 M137.4,845.04 h-5 M684,845.04 h-5 M137.4,843.04 h-5 M684,843.04 h-5 M137.4,841.28 h-5 M684,841.28 h-5 M137.4,839.7 h-10 M684,839.7 h-10 M137.4,829.33 h-5 M684,829.33 h-5 M137.4,823.26 h-5 M684,823.26 h-5 M137.4,818.96 h-5 M684,818.96 h-5 M137.4,815.62 h-5 M684,815.62 h-5 M137.4,812.89 h-5 M684,812.89 h-5 M137.4,810.59 h-5 M684,810.59 h-5 M137.4,808.59 h-5 M684,808.59 h-5 M137.4,806.83 h-5 M684,806.83 h-5 M137.4,805.25 h-10 M684,805.25 h-10 M137.4,794.88 h-5 M684,794.88 h-5 M137.4,788.81 h-5 M684,788.81 h-5 M137.4,784.51 h-5 M684,784.51 h-5 M137.4,781.17 h-5 M684,781.17 h-5 M137.4,778.44 h-5 M684,778.44 h-5 M137.4,776.14 h-5 M684,776.14 h-5 M137.4,774.14 h-5 M684,774.14 h-5 M137.4,772.38 h-5 M684,772.38 h-5 M137.4,770.8 h-10 M684,770.8 h-10 M137.4,760.43 h-5 M684,760.43 h-5 M137.4,754.36 h-5 M684,754.36 h-5 M137.4,750.06 h-5 M684,750.06 h-5 M137.4,746.72 h-5 M684,746.72 h-5 M137.4,743.99 h-5 M684,743.99 h-5 M137.4,741.69 h-5 M684,741.69 h-5 M137.4,739.69 h-5 M684,739.69 h-5 M137.4,737.93 h-5 M684,737.93 h-5 M137.4,736.35 h-10 M684,736.35 h-10 M137.4,725.98 h-5 M684,725.98 h-5 M137.4,719.91 h-5 M684,719.91 h-5 M137.4,715.61 h-5 M684,715.61 h-5 M137.4,712.27 h-5 M684,712.27 h-5 M137.4,709.54 h-5 M684,709.54 h-5 M137.4,707.24 h-5 M684,707.24 h-5 M137.4,705.24 h-5 M684,705.24 h-5 M137.4,703.48 h-5 M684,703.48 h-5 M137.4,701.9 h-10 M684,701.9 h-10 M137.4,691.53 h-5 M684,691.53 h-5 M137.4,685.46 h-5 M684,685.46 h-5 M137.4,681.16 h-5 M684,681.16 h-5 M137.4,677.82 h-5 M684,677.82 h-5 M137.4,675.09 h-5 M684,675.09 h-5 M137.4,672.79 h-5 M684,672.79 h-5 M137.4,670.79 h-5 M684,670.79 h-5 M137.4,669.03 h-5 M684,669.03 h-5 M137.4,667.45 h-10 M684,667.45 h-10 M137.4,657.08 h-5 M684,657.08 h-5 M137.4,651.01 h-5 M684,651.01 h-5 M137.4,646.71 h-5 M684,646.71 h-5 M137.4,643.37 h-5 M684,643.37 h-5 M137.4,640.64 h-5 M684,640.64 h-5" stroke="#000" stroke-width="1.8" fill="none"/>
<g stroke="#000" stroke-width="2" fill="none">
<rect x="137.4" y="54.7" width="546.6" height="853.9"/>
<line x1="137.4" y1="367.3" x2="684.0" y2="367.3"/>
<line x1="137.4" y1="638.0" x2="684.0" y2="638.0"/>
</g>
<g font-family='"Liberation Serif", serif' fill="#000">
<text x="119.6" y="377.3" font-size="32" text-anchor="end">-30</text>
<text x="119.6" y="314.78" font-size="32" text-anchor="end">-20</text>
<text x="119.6" y="252.26" font-size="32" text-anchor="end">-10</text>
<text x="119.6" y="189.74" font-size="32" text-anchor="end">0</text>
<text x="119.6" y="127.22" font-size="32" text-anchor="end">10</text>
<text x="119.6" y="64.7" font-size="32" text-anchor="end">20</text>
<text x="119.6" y="409.7" font-size="32" text-anchor="end">0.34</text>
<text x="119.6" y="517.65" font-size="32" text-anchor="end">0.32</text>
<text x="119.6" y="625.6" font-size="32" text-anchor="end">0.30</text>
<text x="77.8" y="713.9" font-size="32">10</text>
<text x="109.8" y="700.9" font-size="23">5</text>
<text x="77.8" y="782.8" font-size="32">10</text>
<text x="109.8" y="769.8" font-size="23">3</text>
<text x="77.8" y="851.7" font-size="32">10</text>
<text x="109.8" y="838.7" font-size="23">1</text>
<text x="71" y="920.6" font-size="32">10</text>
<text x="102" y="907.6" font-size="23">-1</text>
<text x="137.4" y="950.4" font-size="32" text-anchor="middle">-0.04</text>
<text x="293.52" y="950.4" font-size="32" text-anchor="middle">-0.02</text>
<text x="449.64" y="950.4" font-size="32" text-anchor="middle">0.00</text>
<text x="605.76" y="950.4" font-size="32" text-anchor="middle">0.02</text>
<text x="334" y="999.5" font-size="39"><tspan font-style="italic">k</tspan>/<tspan font-weight="bold">K</tspan> (1/Å)</text>
<g transform="translate(56.8,295.7) rotate(-90)"><text x="0" y="0" font-size="40" font-style="italic" stroke="#000" stroke-width="0.25" transform="translate(-1.2,0) skewX(-10) scale(1.08,1)">ε</text><rect x="16.1" y="-10.6" width="10.4" height="1.8"/><text x="0" y="0" font-size="40" font-style="italic" stroke="#000" stroke-width="0.25" transform="translate(28.6,0) skewX(-10) scale(1.08,1)">ε</text><text x="44" y="10" font-size="28">F</text><text x="69.5" y="0" font-size="39">(meV)</text></g>
<g transform="translate(34.6,565.0) rotate(-90)"><text x="-2" y="0" font-size="39" font-style="italic">b</text><text x="18.8" y="10.5" font-size="28" font-style="italic">k</text><text x="29.2" y="-16.3" font-size="26">2</text><text x="53.8" y="4.5" font-size="44">×</text><text x="85.5" y="0" font-size="40">10</text><text x="125.2" y="-16.3" font-size="26">6</text></g>
<g transform="translate(43.6,828.4) rotate(-90)"><text x="-2" y="0" font-size="39" font-style="italic">b</text><text x="18.8" y="10.5" font-size="28" font-style="italic">k</text><text x="29.2" y="-16.3" font-size="26">2</text><text x="53.8" y="4.5" font-size="44">×</text><text x="85.5" y="0" font-size="40">10</text><text x="125.2" y="-16.3" font-size="26">6</text></g>
<text x="627" y="419.2" font-size="40" font-weight="bold">B</text>
<text x="627" y="689.1" font-size="40" font-weight="bold">B</text>
</g>
<g stroke="#000" stroke-width="1.6" fill="none">
<path d="M653.6,428.7 h16.5 M661.9,412.1 v16.6"/>
<path d="M655.8,681 v24.2 M660.8,681 v24.2"/>
</g>
<g font-family='"Liberation Serif", serif' fill="#000">
<text x="256" y="32.6" font-size="50" font-weight="bold">Γ</text>
<text x="358.6" y="32.6" font-size="50" font-weight="bold">K</text>
<text x="469" y="32.6" font-size="50" font-weight="bold">M</text>
</g>
<path transform="translate(455.2,20.5)" d="M-44.7,-1.7 L-9.0,-1.7 C-10.5,-2.4 -13.3,-4.5 -14.9,-8.0 C-15.4,-9.5 -15.6,-11.5 -15.6,-12.6 L-13.6,-12.9 C-11.5,-8.5 -6.5,-4.2 0,0 C-6.5,4.2 -11.5,8.5 -13.6,12.9 L-15.6,12.6 C-15.6,11.5 -15.4,9.5 -14.9,8.0 C-13.3,4.5 -10.5,2.4 -9.0,1.7 L-44.7,1.7 Z" fill="#000"/>
<path transform="translate(299.6,20.5) scale(-1,1)" d="M-45.4,-1.7 L-9.0,-1.7 C-10.5,-2.4 -13.3,-4.5 -14.9,-8.0 C-15.4,-9.5 -15.6,-11.5 -15.6,-12.6 L-13.6,-12.9 C-11.5,-8.5 -6.5,-4.2 0,0 C-6.5,4.2 -11.5,8.5 -13.6,12.9 L-15.6,12.6 C-15.6,11.5 -15.4,9.5 -14.9,8.0 C-13.3,4.5 -10.5,2.4 -9.0,1.7 L-45.4,1.7 Z" fill="#000"/>
<g font-family='"Liberation Serif", serif' fill="#000">
<text x="149.6" y="676.3" font-size="28.5" font-style="italic" stroke="#000" stroke-width="0.2">τ</text>
<text x="159.2" y="683.7" font-size="20">s</text>
<text x="166.5" y="683.7" font-size="20">,</text>
<text x="183.6" y="676.3" font-size="28">/</text>
<text x="193.1" y="676.3" font-size="28.5" font-style="italic" stroke="#000" stroke-width="0.2">τ</text>
<text x="202.4" y="683.7" font-size="20">s</text>
<text x="210" y="683.7" font-size="20">,</text>
<text x="227.9" y="676.3" font-size="28">=</text>
<text x="149.6" y="718.9" font-size="28.5" font-style="italic" stroke="#000" stroke-width="0.2">τ</text>
<text x="159.2" y="726.3" font-size="20">s</text>
<text x="166.5" y="726.3" font-size="20">,</text>
<text x="183.6" y="718.9" font-size="28">/</text>
<text x="193.1" y="718.9" font-size="28.5" font-style="italic" stroke="#000" stroke-width="0.2">τ</text>
<text x="202.4" y="726.3" font-size="20">s</text>
<text x="210" y="726.3" font-size="20">,</text>
<text x="227.9" y="718.9" font-size="28">=</text>
<text x="250.1" y="676.3" font-size="28">12.9</text>
<text x="305" y="676.3" font-size="28" font-weight="bold">K</text>
<text x="366" y="676.3" font-size="28" font-weight="bold">Γ</text>
<text x="250" y="718.9" font-size="28">1.8</text>
<text x="291.6" y="718.9" font-size="28" font-weight="bold">K</text>
<text x="353" y="718.9" font-size="26.5" font-weight="bold">M</text>
</g>
<g stroke="#000" stroke-width="1.15" fill="none">
<path d="M172.3,683 h10.6 M177.6,671.2 v12.2"/>
<path d="M216.2,670.3 v16.4 M220.3,670.3 v16.4"/>
<path d="M172.3,725.6 h10.6 M177.6,713.8 v12.2"/>
<path d="M216.2,712.9 v16.4 M220.3,712.9 v16.4"/>
</g>
<path transform="translate(358.5,669.8)" d="M-25.4,-0.9655999999999999 L-5.111999999999999,-0.9655999999999999 C-5.9639999999999995,-1.3631999999999997 -7.554399999999999,-2.5559999999999996 -8.463199999999999,-4.544 C-8.7472,-5.396 -8.8608,-6.531999999999999 -8.8608,-7.156799999999999 L-7.724799999999999,-7.3271999999999995 C-6.531999999999999,-4.827999999999999 -3.6919999999999997,-2.3855999999999997 0,0 C-3.6919999999999997,2.3855999999999997 -6.531999999999999,4.827999999999999 -7.724799999999999,7.3271999999999995 L-8.8608,7.156799999999999 C-8.8608,6.531999999999999 -8.7472,5.396 -8.463199999999999,4.544 C-7.554399999999999,2.5559999999999996 -5.9639999999999995,1.3631999999999997 -5.111999999999999,0.9655999999999999 L-25.4,0.9655999999999999 Z" fill="#000"/>
<path transform="translate(344.5,712.4)" d="M-25.4,-0.9655999999999999 L-5.111999999999999,-0.9655999999999999 C-5.9639999999999995,-1.3631999999999997 -7.554399999999999,-2.5559999999999996 -8.463199999999999,-4.544 C-8.7472,-5.396 -8.8608,-6.531999999999999 -8.8608,-7.156799999999999 L-7.724799999999999,-7.3271999999999995 C-6.531999999999999,-4.827999999999999 -3.6919999999999997,-2.3855999999999997 0,0 C-3.6919999999999997,2.3855999999999997 -6.531999999999999,4.827999999999999 -7.724799999999999,7.3271999999999995 L-8.8608,7.156799999999999 C-8.8608,6.531999999999999 -8.7472,5.396 -8.463199999999999,4.544 C-7.554399999999999,2.5559999999999996 -5.9639999999999995,1.3631999999999997 -5.111999999999999,0.9655999999999999 L-25.4,0.9655999999999999 Z" fill="#000"/>
</svg>
</body></html>
